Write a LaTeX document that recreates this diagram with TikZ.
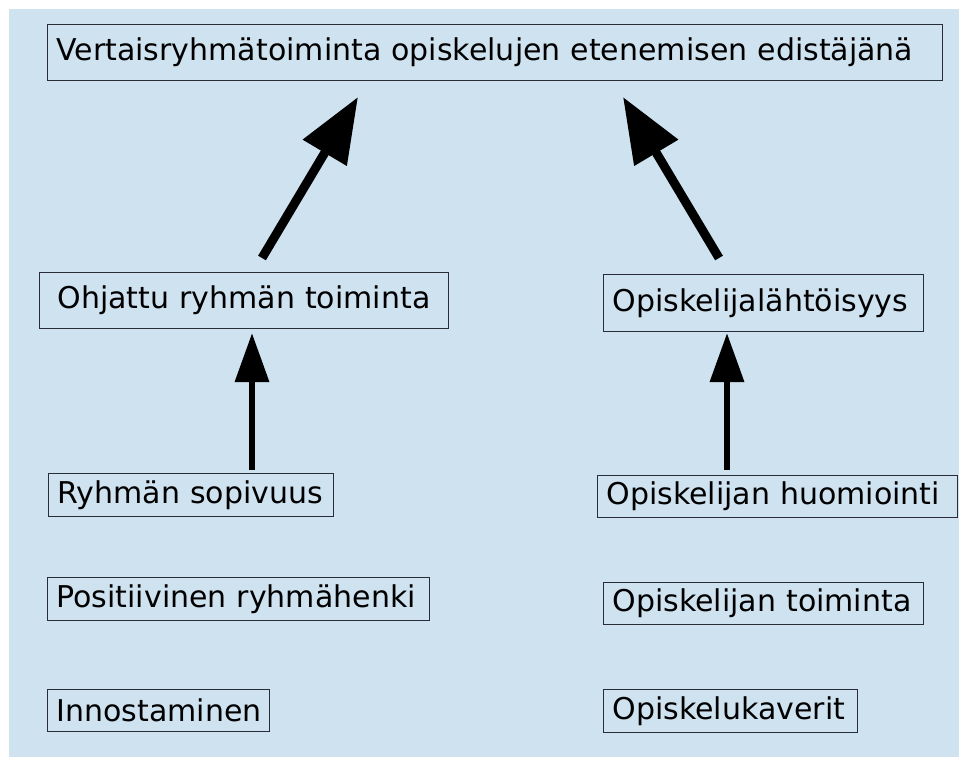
\documentclass[tikz,border=0pt]{standalone}
\usepackage{fontspec}
\setmainfont{DejaVu Sans}
\usetikzlibrary{arrows.meta}
\definecolor{bg}{RGB}{207,226,240}
\definecolor{edge}{RGB}{40,45,55}
\begin{document}
\begin{tikzpicture}[x=1pt,y=-1pt,
  box/.style={draw=edge, line width=1pt, anchor=north west, inner xsep=9pt, inner ysep=0pt,
    align=left, font=\fontsize{30}{34}\selectfont, text=black},
  bigarrow/.style={line width=9pt, -{Triangle[length=65pt,width=49pt]}},
  uparrow/.style={line width=6.5pt, -{Triangle[length=49pt,width=33pt]}}]
\useasboundingbox (0,0) rectangle (959,757);
\fill[bg] (9,9) rectangle (959,757);

\node[box, text width=877pt, minimum height=56pt] (top) at (47,24) {Vertaisryhmätoiminta opiskelujen etenemisen edistäjänä};
\node[box, text width=391pt, minimum height=56pt, align=center] (ohj) at (39,272) {Ohjattu ryhmän toiminta};
\node[box, text width=302pt, minimum height=57pt] (lah) at (603,274) {Opiskelijalähtöisyys};
\node[box, text width=267pt, minimum height=43pt] (ryh) at (48,473) {Ryhmän sopivuus};
\node[box, text width=364pt, minimum height=43pt] (pos) at (47,577) {Positiivinen ryhmähenki};
\node[box, text width=204pt, minimum height=42pt] (inn) at (47,689) {Innostaminen};
\node[box, text width=342pt, minimum height=42pt] (huo) at (597,475) {Opiskelijan huomiointi};
\node[box, text width=302pt, minimum height=42pt] (toi) at (603,582) {Opiskelijan toiminta};
\node[box, text width=236pt, minimum height=43pt] (kav) at (603,689) {Opiskelukaverit};

\coordinate (a1s) at (262,258);
\coordinate (a1e) at (358,97);
\coordinate (a2s) at (719,258);
\coordinate (a2e) at (623,97);
\coordinate (a3s) at (252,470);
\coordinate (a3e) at (252,333);
\coordinate (a4s) at (727,470);
\coordinate (a4e) at (727,333);

\draw[bigarrow] (a1s) -- (a1e);
\draw[bigarrow] (a2s) -- (a2e);
\draw[uparrow] (a3s) -- (a3e);
\draw[uparrow] (a4s) -- (a4e);
\end{tikzpicture}
\end{document}
